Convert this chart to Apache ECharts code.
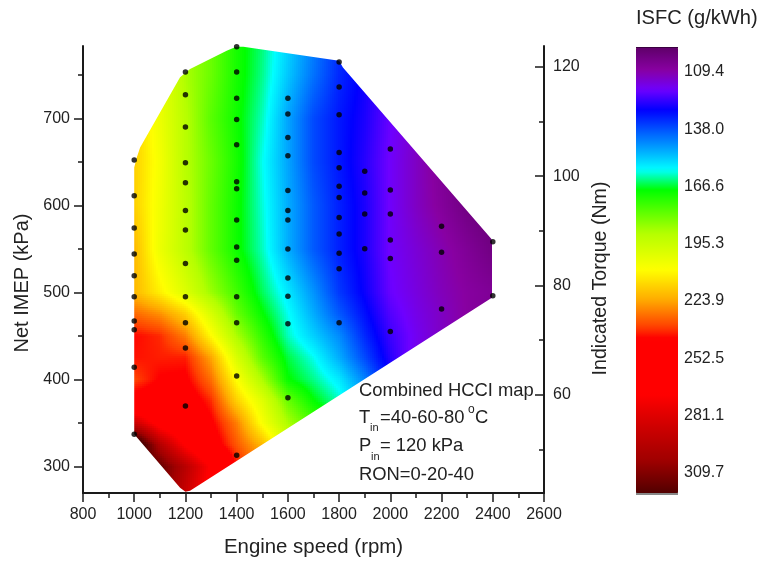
<!DOCTYPE html>
<html><head><meta charset="utf-8">
<style>html,body{margin:0;padding:0;background:#fff}#c{width:764px;height:562px}</style>
<script src="https://cdn.jsdelivr.net/npm/echarts@6/dist/echarts.min.js"></script>
</head><body><div id="c"></div>
<script>
// engine speed nodes of the ISFC map
const speedNodes = [1000,1100,1200,1300,1400,1500,1600,1700,1800,1900,2000,2100,2200,2300,2400];
// IMEP rows
const imepNodes = [270,300,325,350,375,400,425,450,475,500,550,600,650,700,750,800];
const isfc270 = [321,315,290,265,245,230,215,200,190,180,170,160,150,140,130];
const isfc300 = [321,318,296,270,243,228,210,195,185,175,165,155,145,135,125];
const isfc325 = [340,298,270,250,235,222,200,186,175,165,155,145,135,125,115];
const isfc350 = [290,265,255,245,230,208,190,178,170,155,140,130,125,118,112];
const isfc375 = [248,250,250,240,218,202,182,170,162,152,140,130,120,112,108];
const isfc400 = [237,244,245,232,209,190,170,164,157,145,130,120,113,108,105];
const isfc425 = [242,241,241,225,200,180,167,160,150,138,126,117,111,108,105];
const isfc450 = [243,240,230,210,190,175,162,154,146,134,124,118,113,109,106];
const isfc475 = [233,228,218,200,182,170,160,150,140,131,122,117,113,109,106];
const isfc500 = [222,212,201,188,177,166,157,147,136,128.5,120,116,112,109,107];
const isfc550 = [222,205,193,181,171,162,150,140,133,127,119,115,111,107,103];
const isfc600 = [218,206,193,181,171,161,150,140,133,127,119,113,108,103,100];
const isfc650 = [218,207,192,182,172,160,149,138,132,126,119,113,107,102,100];
const isfc700 = [218,205,192,180,171,162,149,138,132,127,120,114,108,103,100];
const isfc750 = [215,205,190,182,172,164,153,143,134,128,121,115,108,103,100];
const isfc800 = [215,205,190,182,172,165,155,145,135,128,121,115,108,103,100];
const isfcRows = [isfc270,isfc300,isfc325,isfc350,isfc375,isfc400,isfc425,isfc450,isfc475,isfc500,isfc550,isfc600,isfc650,isfc700,isfc750,isfc800];

// boundary of the mapped region
const outlineSpeed = [1000,1010,1023,1179,1218,1361,1398,1426,1800,1815,2394,2398,2398,1218,1200,1179,1000];
const outlineImep  = [643.5,655,666.4,747,756.5,777.6,782,782,766,758.4,561.5,558,494,272,271,275.6,337];

// measured operating points, one list per engine speed
const pts1000 = [652,611,574,544,519,495,467,457,414,337];
const pts1200 = [753,727,690,649,626,594,571.5,533,495,465,436,369.5];
const pts1400 = [782,753,723,698.6,669.5,627,619,583,552,537,495,465,404,313];
const pts1600 = [723,705,678,657,617,594,583,549.7,516.6,495.6,464,379];
const pts1800 = [764.6,736,704,660.7,643,622,609,586,567,545,527,465];
const pts1900 = [639,614,590,550];
const pts2000 = [664.6,617.5,590,560,539,455];
const pts2200 = [576,546,481];
const pts2400 = [558,496];
const ptGroups = [[1000,pts1000],[1200,pts1200],[1400,pts1400],[1600,pts1600],[1800,pts1800],[1900,pts1900],[2000,pts2000],[2200,pts2200],[2400,pts2400]];

// colour scale
const scaleTicks = [109.4,138.0,166.6,195.3,223.9,252.5,281.1,309.7];
const scaleStops = [97.9,109.4,119.4,129.4,137.9,149.4,159.4,169.4,190.9,209.4,224.4,237.9,243.4,271.9,284.4,304.4,321.4];
const scaleColors = ['#5e0068','#8800a2','#6e00ff','#0000ff','#0048ff','#00a8ff','#00ffff','#00ff00','#b4ff00','#ffff00','#ffaa00','#ff4000','#ff0000','#ff0000','#d80000','#a00000','#500000'];

const imepTicks = [300,400,500,600,700];
const imepMinor = [350,450,550,650,750];
const torqueTicks = [60,80,100,120];
const torqueMinor = [50,70,90,110];

const rgb = scaleColors.map(h => [parseInt(h.slice(1,3),16),parseInt(h.slice(3,5),16),parseInt(h.slice(5,7),16)]);
function colorOf(v){
  const s = scaleStops, n = s.length;
  if (v <= s[0]) v = s[0];
  if (v >= s[n-1]) v = s[n-1];
  let k = 0;
  while (k < n-2 && v > s[k+1]) k++;
  const t = (v-s[k])/(s[k+1]-s[k]), a = rgb[k], b = rgb[k+1];
  return 'rgb('+Math.round(a[0]+(b[0]-a[0])*t)+','+Math.round(a[1]+(b[1]-a[1])*t)+','+Math.round(a[2]+(b[2]-a[2])*t)+')';
}
const vmColors = [];
for (let v = scaleStops[0]; v <= scaleStops[scaleStops.length-1]; v += 0.5) vmColors.push(colorOf(v));

const cellData = [];
imepNodes.forEach((y,j) => { speedNodes.forEach((x,i) => {
  if (i < speedNodes.length-1 && j < imepNodes.length-1) cellData.push([x,y,isfcRows[j][i],i,j]);
});});

const outlineData = outlineSpeed.map((s,i) => [s,outlineImep[i]]);

function renderCell(params, api){
  const i = api.value(3), j = api.value(4);
  const p00 = api.coord([speedNodes[i],imepNodes[j]]);
  const p11 = api.coord([speedNodes[i+1],imepNodes[j+1]]);
  const x0 = p00[0], x1 = p11[0], y0 = p00[1], y1 = p11[1]; // y1 < y0
  const a = isfcRows[j][i], b = isfcRows[j][i+1], c = isfcRows[j+1][i], d = isfcRows[j+1][i+1];
  const kids = [];
  const st = 2;
  for (let py = Math.floor(y1/st)*st; py < y0; py += st){
    const cy = py+st/2; if (cy < y1 || cy >= y0) continue;
    const tv = (y0-cy)/(y0-y1);
    for (let px = Math.floor(x0/st)*st; px < x1; px += st){
      const cx = px+st/2; if (cx < x0 || cx >= x1) continue;
      const tu = (cx-x0)/(x1-x0);
      const v = (a*(1-tu)+b*tu)*(1-tv)+(c*(1-tu)+d*tu)*tv;
      kids.push({type:'rect',shape:{x:px,y:py,width:st,height:st},style:{fill:colorOf(v)},silent:true});
    }
  }
  return {type:'group',children:kids,clipPath:{type:'polygon',shape:{points:outlineData.map(q=>api.coord(q))}}};
}

const scatterData = [];
ptGroups.forEach(g => g[1].forEach(y => scatterData.push([g[0],y])));

const F = '"Liberation Sans", Arial, sans-serif';
const AX = '#1a1a1a';
const line = {show:true,lineStyle:{color:AX,width:2}};
const txt = (text,x,y,size) => ({type:'text',left:x,top:y,style:{text,fill:'#222',font:(size||18.4)+'px '+F},silent:true,z:20});

const chart = echarts.init(document.getElementById('c'),null,{renderer:'canvas'});
chart.setOption({
  animation:false,
  backgroundColor:'#fff',
  textStyle:{fontFamily:F},
  grid:[
    {left:83,top:46,width:461,height:448,containLabel:false},
    {left:636,top:49,width:42,height:447,containLabel:false}
  ],
  xAxis:[
    {gridIndex:0,type:'value',min:800,max:2600,interval:200,splitLine:{show:false},
     axisLine:line,axisTick:{show:true,length:9,lineStyle:{color:AX,width:1.5}},
     minorTick:{show:true,splitNumber:2,length:5,lineStyle:{color:AX,width:1.5}},
     axisLabel:{color:'#222',fontSize:16,margin:14,fontFamily:F,formatter:v=>String(v)},
     name:'Engine speed (rpm)',nameLocation:'middle',nameGap:44,nameTextStyle:{fontSize:20.4,color:'#222',fontFamily:F}},
    {gridIndex:1,type:'value',min:0,max:1,show:false}
  ],
  yAxis:[
    {gridIndex:0,type:'value',position:'left',min:269.5,max:783,splitLine:{show:false},
     axisLine:line,axisTick:{show:true,length:9,customValues:imepTicks,lineStyle:{color:AX,width:1.5}},
     axisLabel:{color:'#222',fontSize:16,margin:13,customValues:imepTicks,fontFamily:F},
     name:'Net IMEP (kPa)',nameLocation:'middle',nameGap:48,nameRotate:90,
     nameTextStyle:{fontSize:20,color:'#222',fontFamily:F,padding:[0,27,0,0]}},
    {gridIndex:0,type:'value',position:'right',min:42,max:123.85,splitLine:{show:false},
     axisLine:line,axisTick:{show:true,inside:true,length:9,customValues:torqueTicks,lineStyle:{color:AX,width:1.5}},
     axisLabel:{color:'#222',fontSize:16,margin:9,customValues:torqueTicks,fontFamily:F},
     name:'Indicated Torque (Nm)',nameLocation:'middle',nameGap:36,nameRotate:90,
     nameTextStyle:{fontSize:19.6,color:'#222',fontFamily:F,padding:[0,18,0,0]}},
    {gridIndex:0,type:'value',position:'left',min:269.5,max:783,splitLine:{show:false},
     axisLine:{show:false},axisLabel:{show:false},
     axisTick:{show:true,length:5,customValues:imepMinor,lineStyle:{color:AX,width:1.5}}},
    {gridIndex:0,type:'value',position:'right',min:42,max:123.85,splitLine:{show:false},
     axisLine:{show:false},axisLabel:{show:false},
     axisTick:{show:true,inside:true,length:5,customValues:torqueMinor,lineStyle:{color:AX,width:1.5}}},
    {gridIndex:1,type:'value',position:'right',inverse:true,min:97.9,max:321.4,splitLine:{show:false},
     axisLine:{show:false},axisTick:{show:false},
     axisLabel:{color:'#222',fontSize:16,margin:6,customValues:scaleTicks,formatter:v=>v.toFixed(1),fontFamily:F}}
  ],
  visualMap:[{
    type:'continuous',show:true,seriesIndex:0,dimension:2,min:97.9,max:321.4,inverse:true,
    left:636,top:47,itemWidth:42,itemHeight:447,padding:0,text:null,calculable:false,hoverLink:false,
    orient:'vertical',inRange:{color:vmColors},outOfRange:{color:vmColors[vmColors.length-1]},showLabel:false,
    formatter:()=>''
  }],
  series:[
    {type:'custom',coordinateSystem:'cartesian2d',xAxisIndex:0,yAxisIndex:0,data:cellData,
     encode:{x:0,y:1},renderItem:renderCell,silent:true,clip:false,z:1,progressive:0,animation:false},
    {type:'scatter',xAxisIndex:0,yAxisIndex:0,data:scatterData,symbolSize:5.5,clip:false,
     itemStyle:{color:'#000'},silent:true,z:5}
  ],
  graphic:[
    txt('ISFC (g/kWh)',636,8,20.1),
    {type:'rect',left:636,top:493,shape:{width:42,height:2},style:{fill:'#888'},silent:true,z:20},
    {type:'rect',left:636,top:47,shape:{width:42,height:1},style:{fill:'#3a0040'},silent:true,z:20},
    txt('Combined HCCI map',359,382),
    txt('T',359,409),txt('in',370,422,11),txt('=40-60-80',380,409),txt('o',468,404,12),txt('C',475,409),
    txt('P',359,437),txt('in',371,451,11),txt('= 120 kPa',380,437),
    txt('RON=0-20-40',359,466)
  ]
});
</script></body></html>
